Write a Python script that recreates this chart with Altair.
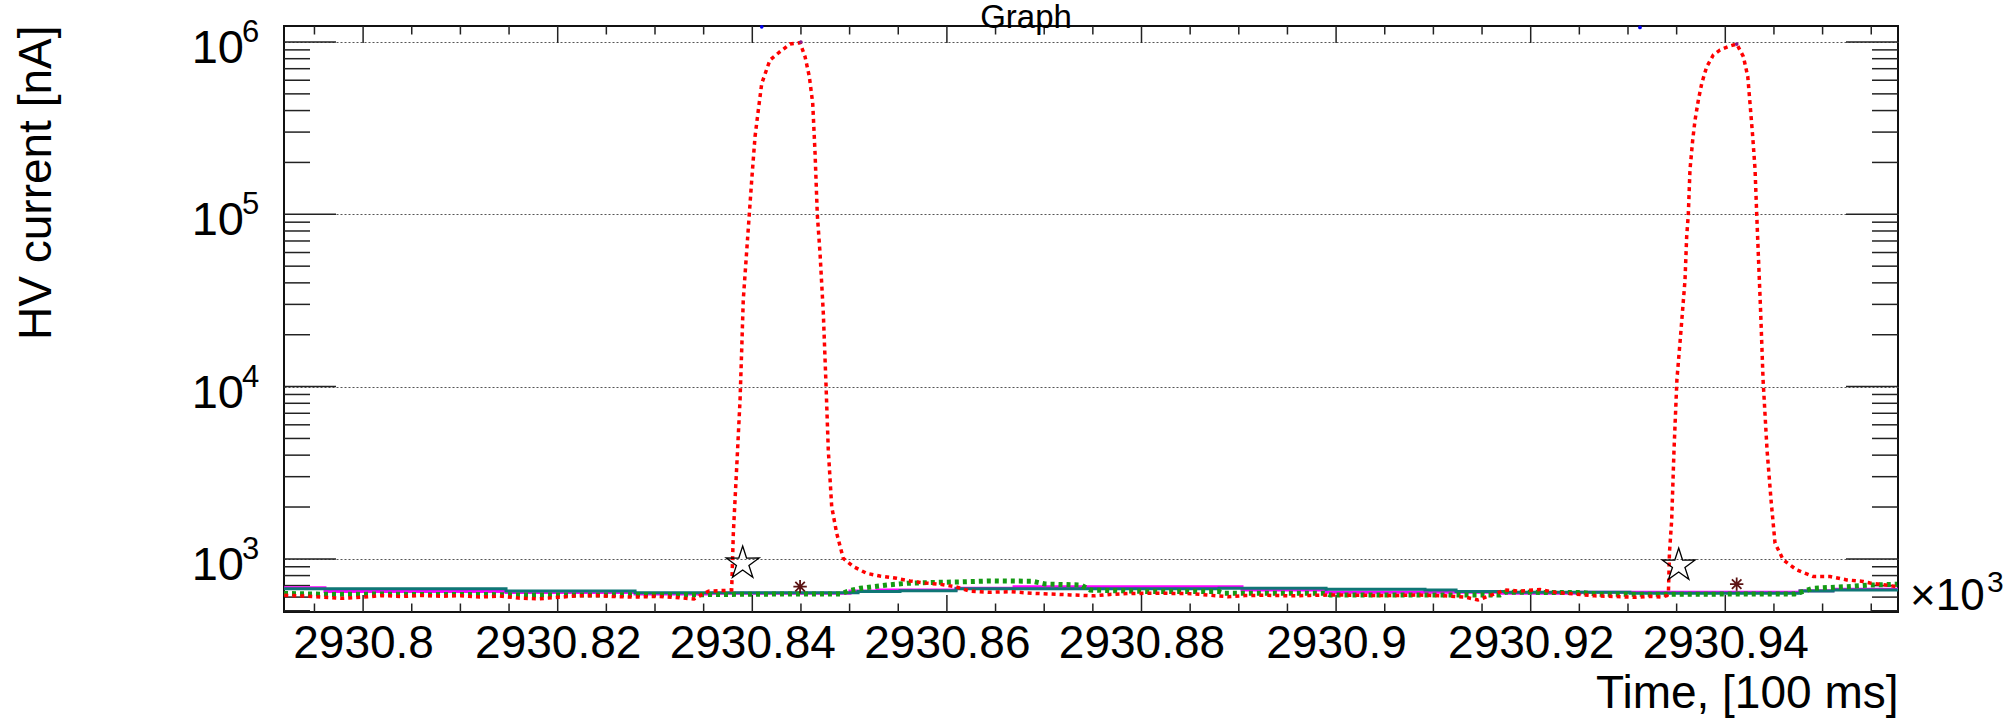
import altair as alt
import pandas as pd

FONT = "Liberation Sans"

# ---------------- data (x in units of 10^3 x [100 ms], y in nA) ----------------
red_x = [2930.7919, 2930.794, 2930.796, 2930.798, 2930.800, 2930.802, 2930.804, 2930.806,
         2930.808, 2930.810, 2930.812, 2930.814, 2930.816, 2930.818, 2930.820, 2930.822,
         2930.824, 2930.826, 2930.828, 2930.830, 2930.832, 2930.834, 2930.8355, 2930.837,
         2930.83788, 2930.83805, 2930.83840, 2930.83874, 2930.83891, 2930.83907, 2930.83969,
         2930.83994, 2930.84028, 2930.84062, 2930.84097, 2930.84182, 2930.84285, 2930.84388,
         2930.84491, 2930.84542, 2930.84586, 2930.84621, 2930.84645, 2930.84668, 2930.84696,
         2930.84730, 2930.84757, 2930.84781, 2930.84816, 2930.84867, 2930.84935, 2930.85038,
         2930.85176, 2930.85312, 2930.85484, 2930.85621, 2930.85775, 2930.85929, 2930.86083,
         2930.86237, 2930.86443, 2930.86649, 2930.86875, 2930.87060, 2930.87265, 2930.87512,
         2930.87676, 2930.87882, 2930.88190, 2930.88519, 2930.88704, 2930.88889, 2930.89064,
         2930.89269, 2930.89526, 2930.89732, 2930.89937, 2930.90246, 2930.90554, 2930.90862,
         2930.91119, 2930.91325, 2930.91458, 2930.91582, 2930.91736, 2930.91890, 2930.92096,
         2930.92250, 2930.92455, 2930.92661, 2930.92866, 2930.93072, 2930.93226, 2930.93349,
         2930.93401, 2930.93416, 2930.93426, 2930.93449, 2930.93473, 2930.93503, 2930.93545,
         2930.93586, 2930.93603, 2930.93620, 2930.93637, 2930.93665, 2930.93689, 2930.93723,
         2930.93758, 2930.93809, 2930.93877, 2930.93946, 2930.94049, 2930.94118, 2930.94186,
         2930.94231, 2930.94254, 2930.94282, 2930.94306, 2930.94323, 2930.94339, 2930.94364,
         2930.94388, 2930.94429, 2930.94470, 2930.94511, 2930.94596, 2930.94734, 2930.94905,
         2930.95077, 2930.95249, 2930.95416, 2930.95488, 2930.95591, 2930.95766]
red_y = [615, 608, 598, 590, 600, 612, 605, 614,
         607, 611, 600, 609, 592, 586, 598, 610,
         612, 604, 600, 606, 598, 585, 650, 655,
         660, 1406, 3430, 8350, 16300, 31800, 100000,
         158000, 282000, 403000, 575000, 787000, 879000, 973000,
         990000, 822000, 630000, 440000, 226000, 100000, 59400,
         26600, 10450, 4290, 2010, 1410, 1007, 902,
         824, 795, 771, 745, 724, 712, 690,
         650, 640, 645, 632, 625, 618, 610,
         622, 630, 632, 628, 615, 603, 612,
         615, 610, 614, 617, 615, 612, 617,
         610, 600, 578, 612, 660, 650, 665,
         640, 625, 610, 605, 598, 606, 600,
         612, 650, 1080, 1680, 4290, 11000, 21300,
         41600, 74100, 100000, 181000, 270000, 352000, 460000,
         575000, 719000, 841000, 899000, 948000, 973000, 822000,
         630000, 440000, 282000, 181000, 100000, 59400, 26600,
         11000, 4290, 2200, 1235, 986, 863, 789,
         789, 755, 740, 725, 712, 690]

green_x = [2930.79187, 2930.79660, 2930.80174, 2930.80688, 2930.81201, 2930.81715, 2930.82229,
           2930.82743, 2930.83257, 2930.83771, 2930.84285, 2930.84902, 2930.85004, 2930.85107,
           2930.85241, 2930.85385, 2930.85590, 2930.85857, 2930.86135, 2930.86443, 2930.86875,
           2930.87009, 2930.87379, 2930.87471, 2930.88088, 2930.88797, 2930.88849, 2930.89897,
           2930.89938, 2930.91685, 2930.91736, 2930.92507, 2930.92712, 2930.93740, 2930.94716,
           2930.94901, 2930.95251, 2930.95488, 2930.95766]
green_y = [630, 622, 625, 620, 622, 616, 617,
           619, 618, 622, 625, 625, 655, 675,
           690, 705, 722, 730, 735, 745, 742,
           715, 705, 659, 646, 646, 631, 631,
           617, 617, 640, 638, 624, 624, 626,
           675, 690, 705, 712]

magenta_x = [2930.79187, 2930.79608, 2930.81469, 2930.82795, 2930.83576, 2930.85004, 2930.85282,
             2930.86094, 2930.86690, 2930.89033, 2930.89897, 2930.91685, 2930.92507, 2930.94768,
             2930.95107, 2930.95775]
magenta_y = [680, 646, 638, 625, 631, 652, 659,
             675, 690, 659, 640, 631, 640, 653,
             666, 666]

teal_x = [2930.79187, 2930.81469, 2930.82795, 2930.85087, 2930.85518, 2930.86094, 2930.88797,
          2930.89897, 2930.90914, 2930.91233, 2930.91736, 2930.93020, 2930.94768, 2930.95107,
          2930.95775]
teal_y = [672, 652, 635, 646, 653, 670, 675,
          666, 659, 646, 640, 631, 650, 659,
          659]

star_x = [2930.83901, 2930.93521]
star_y = [942, 917]
ast_x = [2930.84491, 2930.94117]
ast_y = [690, 714]
peak_x = [2930.84499, 2930.94117]
peak_y = [1000000, 973000]
blue_x = [2930.84097, 2930.93123]
blue_y = [1225000, 1215000]

x_major = [2930.80, 2930.82, 2930.84, 2930.86, 2930.88, 2930.90, 2930.92, 2930.94]
x_minor = [2930.795, 2930.805, 2930.81, 2930.815, 2930.825, 2930.83, 2930.835, 2930.845,
           2930.85, 2930.855, 2930.865, 2930.87, 2930.875, 2930.885, 2930.89, 2930.895,
           2930.905, 2930.91, 2930.915, 2930.925, 2930.93, 2930.935, 2930.945, 2930.95, 2930.955]
y_major = [1e3, 1e4, 1e5, 1e6]
y_minor = [500, 600, 700, 800, 900,
           2000, 3000, 4000, 5000, 6000, 7000, 8000, 9000,
           20000, 30000, 40000, 50000, 60000, 70000, 80000, 90000,
           200000, 300000, 400000, 500000, 600000, 700000, 800000, 900000]
y_exp = ["3", "4", "5", "6"]

# ---------------- layout ----------------
W, H = 1614, 586
X_DOMAIN = [2930.79187, 2930.95775]
Y_DOMAIN = [491.7, 1238400]

x_enc = alt.X("x:Q",
              scale=alt.Scale(domain=X_DOMAIN, nice=False, zero=False),
              axis=alt.Axis(values=x_major, format=".2~f", ticks=False, domain=False, grid=False,
                            labelFontSize=46, labelFont=FONT, labelColor="black", labelPadding=9,
                            labelFlush=False, labelOverlap=False,
                            title="Time, [100 ms]", titleFont=FONT, titleFontSize=46,
                            titleFontWeight="normal", titleColor="black",
                            titleAnchor="end", titleAlign="right", titleBaseline="alphabetic",
                            titleX=W, titleY=95))
y_enc = alt.Y("y:Q",
              scale=alt.Scale(type="log", domain=Y_DOMAIN, nice=False),
              axis=alt.Axis(values=y_major, labels=False, ticks=False, domain=False, grid=True,
                            gridDash=[2, 2], gridColor="#555555", gridWidth=1,
                            title="HV current [nA]", titleFont=FONT, titleFontSize=46,
                            titleFontWeight="normal", titleColor="black", titleAngle=270,
                            titleAnchor="end", titleAlign="right", titleBaseline="alphabetic",
                            titleX=-234, titleY=-1))

df_red = pd.DataFrame({"x": red_x, "y": red_y})
df_green = pd.DataFrame({"x": green_x, "y": green_y})
df_mag = pd.DataFrame({"x": magenta_x, "y": magenta_y})
df_teal = pd.DataFrame({"x": teal_x, "y": teal_y})
df_star = pd.DataFrame({"x": star_x, "y": star_y})
df_ast = pd.DataFrame({"x": ast_x, "y": ast_y})
df_peak = pd.DataFrame({"x": peak_x, "y": peak_y})
df_blue = pd.DataFrame({"x": blue_x, "y": blue_y})
df_xmaj = pd.DataFrame({"x": x_major})
df_xmin = pd.DataFrame({"x": x_minor})
df_ymaj = pd.DataFrame({"y": y_major, "base": ["10"] * 4, "exp": y_exp})
df_ymin = pd.DataFrame({"y": y_minor})
df_one = pd.DataFrame({"t": ["Graph"]})

TICK = "#222222"

layers = []
# tick marks (inward, ROOT style)
for df, ln in ((df_xmaj, 17), (df_xmin, 8.5)):
    layers.append(alt.Chart(df).mark_rule(color=TICK, strokeWidth=1.5).encode(
        x=x_enc, y=alt.value(H), y2=alt.value(H - ln)))
    layers.append(alt.Chart(df).mark_rule(color=TICK, strokeWidth=1.5).encode(
        x=x_enc, y=alt.value(0), y2=alt.value(ln)))
for df, ln in ((df_ymaj, 52), (df_ymin, 26)):
    layers.append(alt.Chart(df).mark_rule(color=TICK, strokeWidth=1.5).encode(
        y=y_enc, x=alt.value(0), x2=alt.value(ln)))
    layers.append(alt.Chart(df).mark_rule(color=TICK, strokeWidth=1.5).encode(
        y=y_enc, x=alt.value(W), x2=alt.value(W - ln)))

# series
layers.append(alt.Chart(df_mag).mark_line(color="#ff00ff", strokeWidth=3, interpolate="step-after")
              .encode(x=x_enc, y=y_enc))
layers.append(alt.Chart(df_teal).mark_line(color="#0f7676", strokeWidth=3, interpolate="step-after")
              .encode(x=x_enc, y=y_enc))
layers.append(alt.Chart(df_green).mark_line(color="#159a15", strokeWidth=5, strokeDash=[4, 4])
              .encode(x=x_enc, y=y_enc))
layers.append(alt.Chart(df_red).mark_line(color="#ff0000", strokeWidth=3.5, strokeDash=[4, 4])
              .encode(x=x_enc, y=y_enc))

STAR = ("M0,-1L0.2233,-0.3074L0.951,-0.309L0.3614,0.1174L0.588,0.809L0,0.38"
        "L-0.588,0.809L-0.3614,0.1174L-0.951,-0.309L-0.2233,-0.3074Z")
ASTER = "M-1,0L1,0M0,-1L0,1M-0.71,-0.71L0.71,0.71M-0.71,0.71L0.71,-0.71"
layers.append(alt.Chart(df_star).mark_point(shape=STAR, size=1200, filled=False, color="black",
                                            strokeWidth=1.3, opacity=1).encode(x=x_enc, y=y_enc))
layers.append(alt.Chart(df_ast).mark_point(shape=ASTER, size=180, filled=False, color="#5c1414",
                                           strokeWidth=1.8, opacity=1).encode(x=x_enc, y=y_enc))
layers.append(alt.Chart(df_peak).mark_point(shape="circle", size=14, filled=True, color="#8a1a8a",
                                            opacity=1).encode(x=x_enc, y=y_enc))
layers.append(alt.Chart(df_blue).mark_point(shape="circle", size=14, filled=True, color="#0000ee",
                                            opacity=1).encode(x=x_enc, y=y_enc))

# y tick labels 10^n
layers.append(alt.Chart(df_ymaj).mark_text(align="right", baseline="alphabetic", fontSize=47,
                                           font=FONT, color="black", dy=21)
              .encode(y=y_enc, x=alt.value(-40), text="base:N"))
layers.append(alt.Chart(df_ymaj).mark_text(align="left", baseline="alphabetic", fontSize=31,
                                           font=FONT, color="black", dy=0)
              .encode(y=y_enc, x=alt.value(-42), text="exp:N"))

# annotations
layers.append(alt.Chart(df_one).mark_text(align="center", baseline="alphabetic", fontSize=33,
                                          font=FONT, color="black")
              .encode(x=alt.value(742), y=alt.value(2), text="t:N"))
layers.append(alt.Chart(df_one).mark_text(align="left", baseline="alphabetic", fontSize=44,
                                          font=FONT, color="black", text="\u00d710")
              .encode(x=alt.value(1626), y=alt.value(584)))
layers.append(alt.Chart(df_one).mark_text(align="left", baseline="alphabetic", fontSize=30,
                                          font=FONT, color="black", text="3")
              .encode(x=alt.value(1703), y=alt.value(566)))

chart = alt.layer(*layers).properties(
    width=W, height=H,
    autosize=alt.AutoSizeParams(type="none"),
    padding={"left": 284, "top": 26, "right": 117, "bottom": 106},
    background="white",
).configure_view(stroke="#111111", strokeWidth=2)

chart.save("out.html", embed_options={"renderer": "svg", "actions": False})
